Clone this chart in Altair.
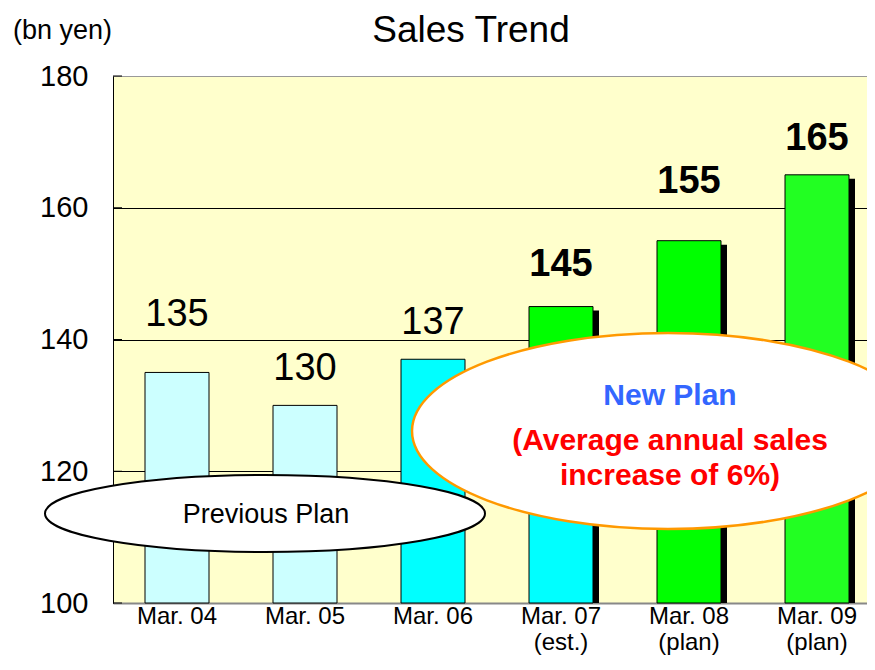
import altair as alt
import pandas as pd

# ---------------- data ----------------
categories = ["Mar. 04", "Mar. 05", "Mar. 06", "Mar. 07 (est.)", "Mar. 08 (plan)", "Mar. 09 (plan)"]
sales = [135, 130, 137, 145, 155, 165]
is_plan = [False, False, False, True, True, True]
bar_colors = ["#ccffff", "#ccffff", "#00ffff", "#00ff00", "#00ff00", "#22ff22"]
mar07_previous_part = 137          # cyan lower part of the Mar. 07 bar
y_ticks = [100, 120, 140, 160, 180]
y_base = 100

title_text = "Sales Trend"
unit_text = "(bn yen)"
prev_plan_text = "Previous Plan"
new_plan_lines = ["New Plan", "(Average annual sales", "increase of 6%)"]

# ---------------- tables ----------------
seg_rows = []
for c, v, col, plan in zip(categories, sales, bar_colors, is_plan):
    if c.startswith("Mar. 07"):
        seg_rows.append({"category": c, "low": y_base, "high": mar07_previous_part, "color": "#00ffff"})
        seg_rows.append({"category": c, "low": mar07_previous_part, "high": v, "color": col})
    else:
        seg_rows.append({"category": c, "low": y_base, "high": v, "color": col})
segments = pd.DataFrame(seg_rows)
totals = pd.DataFrame({"category": categories, "sales": sales, "plan": is_plan, "low": y_base})
ticks = pd.DataFrame({"v": y_ticks})
one = pd.DataFrame({"k": [0]})

FONT = "Liberation Sans"

x_scale = alt.Scale(domain=categories, range=[0, 768], paddingInner=0.5, paddingOuter=0.25)
y_scale = alt.Scale(domain=[100, 180], nice=False, zero=False)

label_expr = ("indexof(datum.label, ' (') > 0 ? "
              "[substring(datum.label, 0, indexof(datum.label, ' (')), "
              "substring(datum.label, indexof(datum.label, ' (') + 1)] : datum.label")

X = alt.X("category:N", sort=categories, scale=x_scale, title=None,
          axis=alt.Axis(labelAngle=0, labelFontSize=24, labelFont=FONT, labelColor="black",
                        labelPadding=1, labelLineHeight=26, ticks=False,
                        domainColor="#888888", domainWidth=2, labelExpr=label_expr))


def Y(field):
    return alt.Y(f"{field}:Q", scale=y_scale, title=None,
                 axis=alt.Axis(values=y_ticks, labelFontSize=29, labelFont=FONT, labelColor="black",
                               labelPadding=25, ticks=False, domainColor="#000000", domainWidth=1,
                               grid=True, gridWidth=1,
                               gridColor=alt.condition("datum.value >= 180", alt.value("#999999"),
                                                       alt.value("#000000"))))


# shadows behind the plan bars
shadows = alt.Chart(totals).transform_filter(alt.datum.plan).mark_bar(
    color="black", xOffset=6, yOffset=4, clip=True
).encode(x=X, y=Y("sales"), y2="low:Q")

bars = alt.Chart(segments).mark_bar(stroke="black", strokeWidth=1).encode(
    x=X, y=Y("high"), y2="low:Q", color=alt.Color("color:N", scale=None)
)

inner_ticks = alt.Chart(ticks).mark_rule(color="black", strokeWidth=1).encode(
    y=Y("v"), x=alt.value(0), x2=alt.value(9)
)

# value labels (individual lifts as in the reference)
label_dy = [-46, -25, -25, -31, -48, -25]
label_layers = []
for c, plan, dy in zip(categories, is_plan, label_dy):
    label_layers.append(
        alt.Chart(totals).transform_filter(alt.datum.category == c).mark_text(
            fontSize=38, font=FONT, fontWeight="bold" if plan else "normal",
            baseline="alphabetic", dy=dy, color="black"
        ).encode(x=X, y=Y("sales"), text="sales:Q")
    )


def ellipse_path(r):
    k = 0.5523
    kr = k * r
    return (f"M -1 0 C -1 {-kr:.4f} {-k} {-r:.4f} 0 {-r:.4f} "
            f"C {k} {-r:.4f} 1 {-kr:.4f} 1 0 "
            f"C 1 {kr:.4f} {k} {r:.4f} 0 {r:.4f} "
            f"C {-k} {r:.4f} -1 {kr:.4f} -1 0 Z")


prev_ellipse = alt.Chart(one).mark_point(
    shape=ellipse_path(38.5 / 220), size=440 ** 2, filled=True, fill="white",
    stroke="black", strokeWidth=2, opacity=1, fillOpacity=1, strokeOpacity=1
).encode(x=alt.value(152), y=alt.value(437.5))

prev_text = alt.Chart(one).mark_text(
    text=prev_plan_text, fontSize=27, font=FONT, color="black", baseline="alphabetic", align="center"
).encode(x=alt.value(153), y=alt.value(447))

new_ellipse = alt.Chart(one).mark_point(
    shape=ellipse_path(98 / 256), size=512 ** 2, filled=True, fill="white",
    stroke="#ff9900", strokeWidth=2.5, opacity=1, fillOpacity=1, strokeOpacity=1
).encode(x=alt.value(555), y=alt.value(355))

new_texts = []
for line, yv, col in zip(new_plan_lines, [329, 374, 409], ["#3366ff", "#ff0000", "#ff0000"]):
    new_texts.append(alt.Chart(one).mark_text(
        text=line, fontSize=30, font=FONT, fontWeight="bold", color=col,
        baseline="alphabetic", align="center"
    ).encode(x=alt.value(557), y=alt.value(yv)))

title_mark = alt.Chart(one).mark_text(
    text=title_text, fontSize=37, font=FONT, color="black", baseline="alphabetic", align="center"
).encode(x=alt.value(358), y=alt.value(-34))

unit_mark = alt.Chart(one).mark_text(
    text=unit_text, fontSize=27, font=FONT, color="black", baseline="alphabetic", align="left"
).encode(x=alt.value(-100), y=alt.value(-37))

chart = alt.layer(
    shadows, bars, inner_ticks, *label_layers, prev_ellipse, prev_text, new_ellipse, *new_texts,
    title_mark, unit_mark
).properties(
    width=754, height=527,
    autosize=alt.AutoSizeParams(type="none"),
    padding={"left": 105, "top": 68, "right": 0, "bottom": 55},
    background="white",
).configure_view(
    fill="#ffffcc", stroke="#999999", strokeWidth=1
)

chart.save("out.html", embed_options={"renderer": "svg", "actions": False})
